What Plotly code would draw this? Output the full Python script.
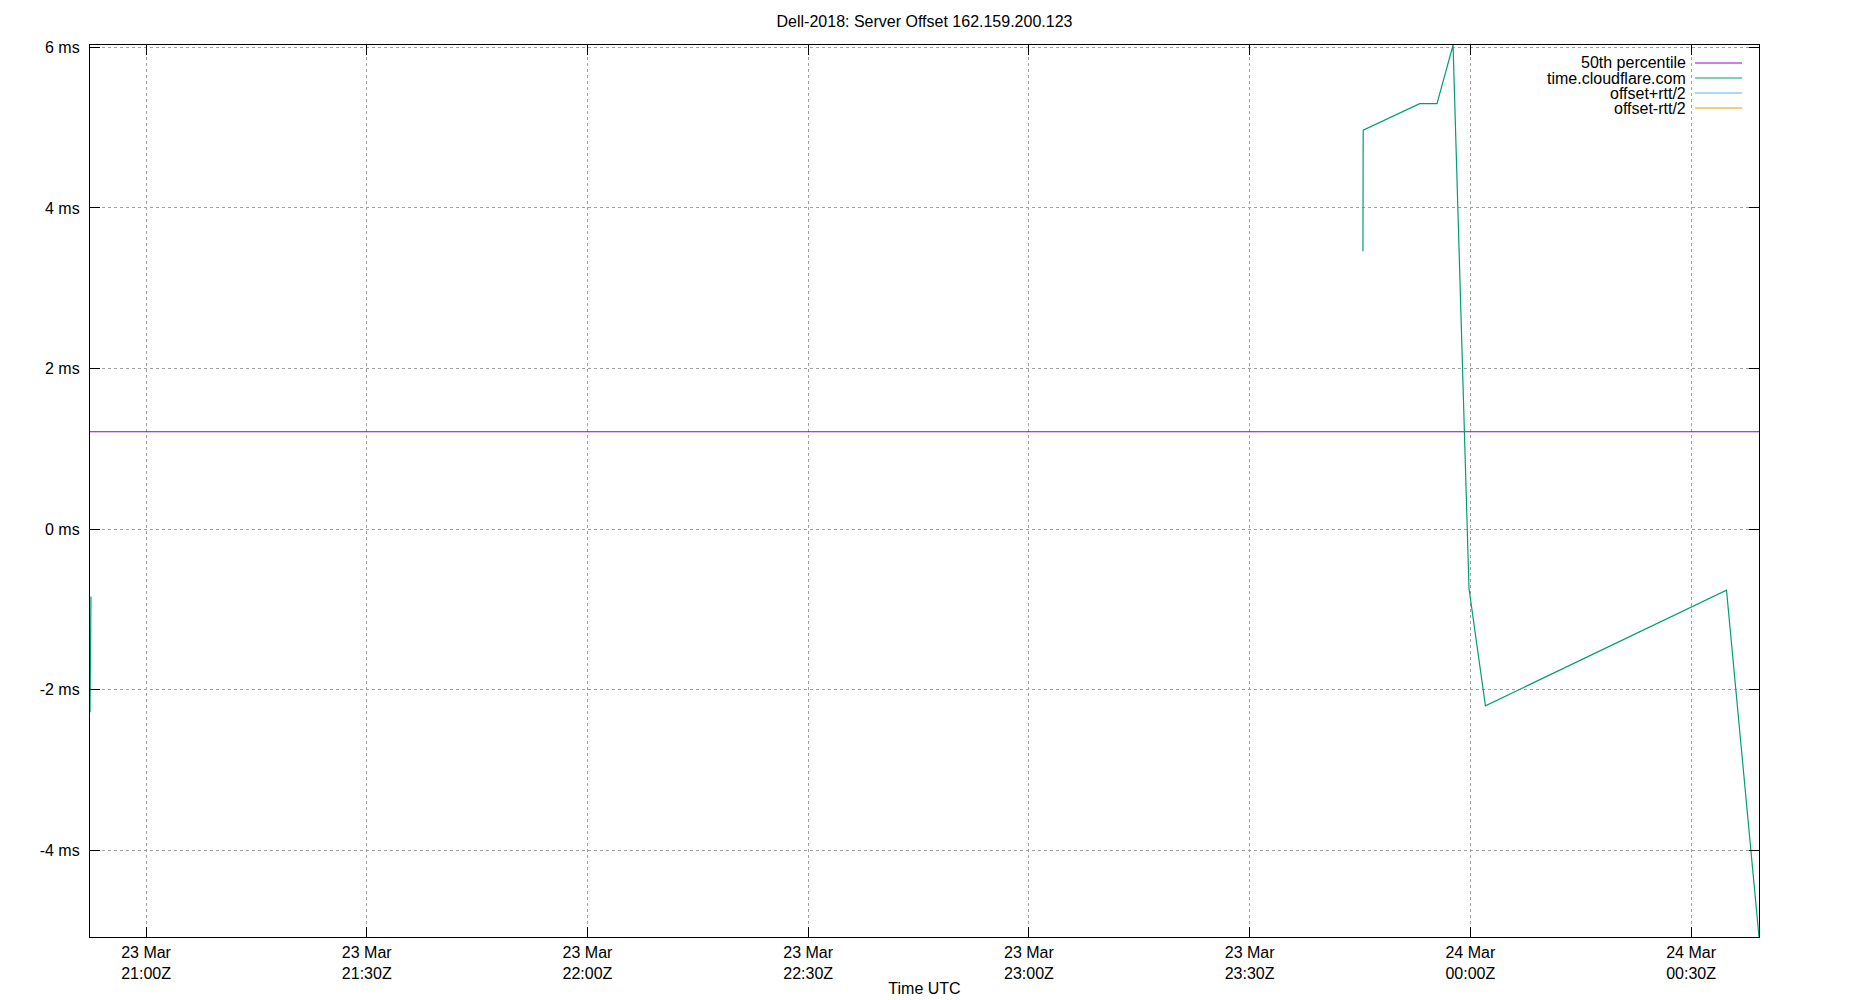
import plotly.graph_objects as go

# --- data ------------------------------------------------------------------
title = "Dell-2018: Server Offset 162.159.200.123"

cf_times = [
    "2025-03-23 20:52:23", "2025-03-23 20:52:31", None,
    "2025-03-23 23:45:24", "2025-03-23 23:45:26", "2025-03-23 23:53:07",
    "2025-03-23 23:55:28", "2025-03-23 23:57:39", "2025-03-23 23:59:49",
    "2025-03-24 00:02:03", "2025-03-24 00:34:49", "2025-03-24 00:39:14",
]
cf_offset = [-2.28, -0.84, None, 3.46, 4.97, 5.30, 5.30, 6.03, -0.74, -2.20, -0.76, -5.08]

p50 = 1.213

series_names = ["50th percentile", "time.cloudflare.com", "offset+rtt/2", "offset-rtt/2"]
series_colors = ["#9400d3", "#009e73", "#56b4e9", "#e69f00"]

x_tickvals = [
    "2025-03-23 21:00", "2025-03-23 21:30", "2025-03-23 22:00", "2025-03-23 22:30",
    "2025-03-23 23:00", "2025-03-23 23:30", "2025-03-24 00:00", "2025-03-24 00:30",
]
x_ticktext = [
    "23 Mar<br>21:00Z", "23 Mar<br>21:30Z", "23 Mar<br>22:00Z", "23 Mar<br>22:30Z",
    "23 Mar<br>23:00Z", "23 Mar<br>23:30Z", "24 Mar<br>00:00Z", "24 Mar<br>00:30Z",
]
y_tickvals = [-4, -2, 0, 2, 4, 6]
y_ticktext = ["-4 ms", "-2 ms", "0 ms", "2 ms", "4 ms", "6 ms"]

# --- layout geometry (pixels) ----------------------------------------------
# the page body has an 8px margin, so figure px = page px - 8
PAGE = 8
W, H = 1850, 1000
L, R, T, B = 82, 99, 37, 71
FONT = dict(family="Liberation Sans, Arial, sans-serif", size=16, color="black")
GRID = "#a0a0a0"


def px_x(px):
    return (px - PAGE - L) / (W - L - R)


def px_y(py):
    return (H - B - (py - PAGE)) / (H - T - B)


valid_t = [t for t in cf_times if t is not None]
valid_v = [v for v in cf_offset if v is not None]

fig = go.Figure()
fig.add_scatter(x=[valid_t[0], valid_t[-1]], y=[p50, p50], mode="lines",
                line=dict(color=series_colors[0], width=1.2), name=series_names[0])
fig.add_scatter(x=cf_times, y=cf_offset, mode="lines", connectgaps=False,
                line=dict(color=series_colors[1], width=1.2), name=series_names[1])
fig.add_scatter(x=[None], y=[None], mode="lines",
                line=dict(color=series_colors[2], width=1.2), name=series_names[2])
fig.add_scatter(x=[None], y=[None], mode="lines",
                line=dict(color=series_colors[3], width=1.2), name=series_names[3])

# gnuplot-style key: text right-aligned, sample line to its right
row_y = [63, 78, 93, 108]
for name, color, py in zip(series_names, series_colors, row_y):
    fig.add_annotation(x=px_x(1688), y=px_y(py), xref="paper", yref="paper",
                       text=name, showarrow=False, xanchor="right", yanchor="middle",
                       font=FONT)
    fig.add_shape(type="line", xref="paper", yref="paper",
                  x0=px_x(1695), x1=px_x(1742), y0=px_y(py), y1=px_y(py),
                  line=dict(color=color, width=1.2))

axis_common = dict(
    showline=True, linecolor="black", linewidth=1.2, mirror="ticks",
    ticks="inside", ticklen=10, tickcolor="black", tickwidth=1.2,
    showgrid=True, gridcolor=GRID, griddash="dot", gridwidth=1,
    zeroline=False, tickfont=FONT,
)

fig.update_layout(
    width=W, height=H,
    margin=dict(l=L, r=R, t=T, b=B),
    paper_bgcolor="white", plot_bgcolor="white",
    font=FONT,
    showlegend=False,
    title=dict(text=title, x=(L + (W - L - R) / 2) / W, xanchor="center",
               y=1 - (21 - PAGE) / H, yanchor="middle", font=FONT),
    xaxis=dict(axis_common, type="date", range=[valid_t[0], valid_t[-1]],
               tickmode="array", tickvals=x_tickvals, ticktext=x_ticktext,
               ticklabelstandoff=1,
               title=dict(text="Time UTC", font=FONT, standoff=1)),
    yaxis=dict(axis_common, range=[min(valid_v), max(valid_v)],
               tickmode="array", tickvals=y_tickvals, ticktext=y_ticktext,
               ticklabelstandoff=6),
)

fig.write_html("out.html")
